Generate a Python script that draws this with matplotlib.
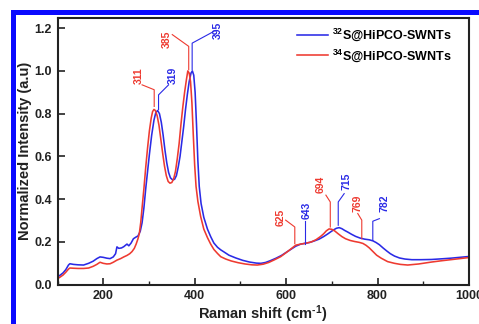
import matplotlib
matplotlib.use("Agg")
import matplotlib.pyplot as plt
from matplotlib.patches import Rectangle
from matplotlib.ticker import MultipleLocator

plt.rcParams['font.family'] = ['Liberation Sans', 'DejaVu Sans']
plt.rcParams['font.weight'] = 'bold'
plt.rcParams['mathtext.fontset'] = 'custom'
plt.rcParams['mathtext.rm'] = 'Liberation Sans:bold'
plt.rcParams['mathtext.it'] = 'Liberation Sans:bold'
plt.rcParams['mathtext.bf'] = 'Liberation Sans:bold'

# ---------------- data ----------------
shift_32 = [100, 106, 112, 118, 124, 127, 135, 145, 157, 168, 178, 186, 193, 200, 208, 215, 222, 227,
            230, 234, 240, 245, 249, 252, 256, 261, 266, 271, 276, 281, 285, 289, 293, 297, 301, 306,
            311, 315, 319, 323, 327, 331, 335, 339, 343, 347, 352, 356, 360, 364, 368, 372, 376, 380,
            384, 388, 392, 395, 398, 401, 404, 407, 410, 414, 420, 428, 435, 442, 450, 457, 465, 475,
            490, 505, 520, 535, 545, 555, 565, 578, 590, 605, 621, 632, 643, 652, 662, 672, 682, 690,
            698, 705, 710, 716, 722, 728, 735, 743, 752, 762, 772, 782, 790, 797, 804, 812, 820, 828,
            837, 848, 860, 875, 895, 918, 940, 960, 980, 1000]
int_32 = [0.036, 0.045, 0.055, 0.070, 0.092, 0.098, 0.095, 0.093, 0.092, 0.100, 0.110, 0.122, 0.130,
          0.128, 0.124, 0.122, 0.130, 0.145, 0.177, 0.170, 0.172, 0.178, 0.185, 0.190, 0.182, 0.195,
          0.215, 0.222, 0.228, 0.250, 0.290, 0.360, 0.450, 0.530, 0.610, 0.700, 0.770, 0.805, 0.815,
          0.800, 0.760, 0.700, 0.630, 0.570, 0.525, 0.500, 0.490, 0.493, 0.510, 0.550, 0.600, 0.670,
          0.740, 0.820, 0.890, 0.950, 0.990, 1.000, 0.980, 0.900, 0.750, 0.580, 0.460, 0.380, 0.315,
          0.260, 0.225, 0.195, 0.175, 0.163, 0.152, 0.138, 0.125, 0.114, 0.106, 0.101, 0.100, 0.104,
          0.112, 0.124, 0.137, 0.158, 0.180, 0.190, 0.194, 0.198, 0.205, 0.213, 0.225, 0.236, 0.248,
          0.258, 0.264, 0.267, 0.262, 0.254, 0.246, 0.236, 0.226, 0.218, 0.213, 0.210, 0.205, 0.197,
          0.187, 0.172, 0.158, 0.145, 0.134, 0.125, 0.120, 0.117, 0.117, 0.118, 0.121, 0.124, 0.128,
          0.132]

shift_34 = [100, 106, 112, 118, 124, 127, 135, 145, 157, 168, 178, 186, 193, 200, 208, 215, 222, 230,
            238, 245, 252, 258, 263, 268, 272, 276, 279, 282, 285, 289, 293, 297, 301, 305, 308, 311,
            314, 318, 322, 326, 330, 334, 338, 342, 346, 350, 354, 358, 362, 366, 370, 374, 378, 382,
            385, 388, 391, 394, 397, 400, 403, 407, 413, 420, 428, 435, 442, 450, 457, 468, 480, 495,
            510, 525, 537, 550, 562, 574, 588, 605, 621, 632, 643, 655, 665, 675, 682, 688, 694, 700,
            706, 714, 722, 730, 740, 750, 760, 768, 775, 782, 790, 798, 808, 822, 837, 850, 866, 890,
            918, 940, 960, 980, 1000]
int_34 = [0.028, 0.036, 0.045, 0.058, 0.073, 0.078, 0.077, 0.076, 0.076, 0.078, 0.086, 0.095, 0.105,
          0.100, 0.097, 0.098, 0.105, 0.115, 0.122, 0.130, 0.137, 0.145, 0.155, 0.170, 0.190, 0.215,
          0.240, 0.290, 0.360, 0.450, 0.550, 0.640, 0.720, 0.780, 0.810, 0.820, 0.815, 0.790, 0.745,
          0.680, 0.615, 0.555, 0.510, 0.483, 0.475, 0.478, 0.495, 0.530, 0.590, 0.660, 0.750, 0.830,
          0.900, 0.960, 1.000, 0.990, 0.950, 0.850, 0.700, 0.560, 0.460, 0.390, 0.320, 0.260, 0.220,
          0.190, 0.165, 0.146, 0.131, 0.120, 0.111, 0.103, 0.097, 0.093, 0.092, 0.096, 0.104, 0.116,
          0.131, 0.158, 0.185, 0.190, 0.194, 0.200, 0.210, 0.225, 0.238, 0.252, 0.261, 0.259, 0.252,
          0.238, 0.225, 0.215, 0.207, 0.202, 0.198, 0.193, 0.184, 0.172, 0.155, 0.138, 0.124, 0.108,
          0.100, 0.095, 0.092, 0.097, 0.106, 0.112, 0.117, 0.122, 0.127]

series_labels = [r'$^{32}$S@HiPCO-SWNTs', r'$^{34}$S@HiPCO-SWNTs']
xticks = [200, 400, 600, 800, 1000]
yticks = [0.0, 0.2, 0.4, 0.6, 0.8, 1.0, 1.2]

# peak annotations: label, series (0=32S blue, 1=34S red)
peak_labels = ['311', '319', '385', '395', '625', '643', '694', '715', '769', '782']
peak_series = [1, 0, 1, 0, 1, 0, 1, 0, 1, 0]

# leader geometry (layout): x_line, y_bottom, y_elbow, x_end, y_end, x_text, y_text
leaders = [
    (311.5, 0.834, 0.912, 285, 0.935, 277, 0.977),
    (321, 0.820, 0.888, 343, 0.935, 353, 0.977),
    (387, 1.006, 1.115, 351, 1.170, 340, 1.150),
    (394.5, 1.006, 1.130, 442, 1.185, 451, 1.190),
    (619, 0.192, 0.270, 599, 0.302, 588, 0.314),
    (641, 0.192, 0.297, 641, 0.297, 644, 0.346),
    (696.6, 0.270, 0.387, 687, 0.419, 676, 0.471),
    (714, 0.278, 0.387, 727, 0.426, 731, 0.485),
    (765.5, 0.215, 0.302, 756.7, 0.333, 757, 0.383),
    (789.6, 0.208, 0.297, 804, 0.309, 814.5, 0.383),
]

colors = ['#2a2ae6', '#ee3a30']

# ---------------- figure ----------------
W, H = 479, 324
fig = plt.figure(figsize=(W / 100, H / 100), dpi=100)
ax = fig.add_axes([57.5 / W, 1 - 284.7 / H, (469 - 57.5) / W, (284.7 - 17.5) / H])

ax.plot(shift_32, int_32, color=colors[0], lw=1.15, label=series_labels[0])
ax.plot(shift_34, int_34, color=colors[1], lw=1.15, label=series_labels[1])

for lab, s, (xl, yb, ye, xe, yend, xt, yt) in zip(peak_labels, peak_series, leaders):
    c = colors[s]
    ax.plot([xl, xl, xe], [yb, ye, yend], color=c, lw=0.8)
    ax.text(xt, yt, lab, rotation=90, ha='center', va='center', color=c,
            fontsize=7.5, fontweight='bold')

ax.set_xlim(100, 1000)
ax.set_ylim(0, 1.25)
ax.set_xticks(xticks)
ax.set_yticks(yticks)
ax.xaxis.set_minor_locator(MultipleLocator(100))
ax.tick_params(axis='both', which='major', direction='in', length=5, width=1.2,
               labelsize=9, colors='#222222', pad=4)
ax.tick_params(axis='x', which='minor', direction='in', length=3, width=1.0, colors='#222222')
for lbl in ax.get_xticklabels() + ax.get_yticklabels():
    lbl.set_fontweight('bold')
    lbl.set_color('#222222')
for sp in ax.spines.values():
    sp.set_linewidth(1.5)
    sp.set_color('#222222')

ax.set_xlabel(r'Raman shift (cm$^{\text{-}1}$)', fontsize=10.5, fontweight='bold', labelpad=1, color='#222222')
ax.set_ylabel('Normalized Intensity (a.u)', fontsize=10.5, fontweight='bold', labelpad=2, color='#222222')

leg = ax.legend(loc='upper right', bbox_to_anchor=(0.9587, 0.965), frameon=False,
                borderaxespad=0, borderpad=0, handlelength=2.5, handletextpad=0.3,
                labelspacing=0.3, prop={'size': 9, 'weight': 'bold'})

# blue frame
fig.add_artist(Rectangle((11 / W, 0), 5 / W, 1 - 9.5 / H, transform=fig.transFigure,
                         facecolor='#0a0aff', edgecolor='none'))
fig.add_artist(Rectangle((11 / W, 1 - 15 / H), 1 - 11 / W, 5.5 / H, transform=fig.transFigure,
                         facecolor='#0a0aff', edgecolor='none'))

fig.savefig('out.png', dpi=100)
